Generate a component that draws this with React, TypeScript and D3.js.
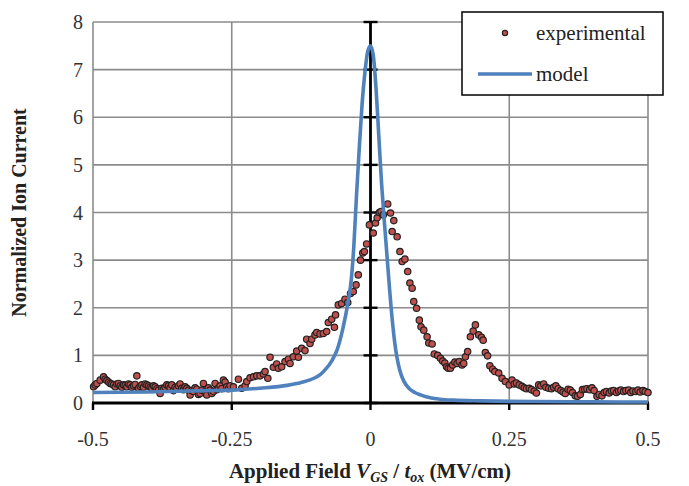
import React from "react";
import * as d3 from "d3";

const xTicks = [-0.5, -0.25, 0, 0.25, 0.5];
const xTickLabels = ["-0.5", "-0.25", "0", "0.25", "0.5"];
const yTicks = [0, 1, 2, 3, 4, 5, 6, 7, 8];

// experimental: [applied field, normalized current]
const experimental: [number, number][] = [
  [-0.499, 0.34], [-0.496, 0.38], [-0.493, 0.41], [-0.487, 0.48], [-0.481, 0.55], [-0.478, 0.5], [-0.475, 0.47],
  [-0.472, 0.44], [-0.469, 0.41], [-0.466, 0.4], [-0.463, 0.38], [-0.46, 0.34], [-0.457, 0.4], [-0.454, 0.41],
  [-0.451, 0.36], [-0.448, 0.33], [-0.445, 0.38], [-0.442, 0.37], [-0.439, 0.34], [-0.436, 0.4], [-0.433, 0.38],
  [-0.43, 0.33], [-0.427, 0.36], [-0.424, 0.39], [-0.421, 0.57], [-0.418, 0.31], [-0.415, 0.35], [-0.412, 0.38],
  [-0.409, 0.33], [-0.406, 0.4], [-0.403, 0.38], [-0.4, 0.36], [-0.397, 0.33], [-0.394, 0.31], [-0.391, 0.36],
  [-0.388, 0.34], [-0.385, 0.3], [-0.382, 0.27], [-0.379, 0.2], [-0.376, 0.31], [-0.373, 0.29], [-0.37, 0.33],
  [-0.367, 0.38], [-0.364, 0.36], [-0.361, 0.32], [-0.358, 0.38], [-0.355, 0.26], [-0.352, 0.33], [-0.349, 0.3],
  [-0.346, 0.36], [-0.343, 0.4], [-0.34, 0.31], [-0.337, 0.28], [-0.334, 0.34], [-0.331, 0.31], [-0.328, 0.27],
  [-0.325, 0.17], [-0.322, 0.26], [-0.319, 0.24], [-0.316, 0.32], [-0.313, 0.29], [-0.31, 0.18], [-0.307, 0.2],
  [-0.304, 0.27], [-0.301, 0.41], [-0.298, 0.24], [-0.295, 0.17], [-0.292, 0.32], [-0.289, 0.27], [-0.286, 0.2],
  [-0.283, 0.24], [-0.28, 0.41], [-0.277, 0.28], [-0.274, 0.31], [-0.271, 0.36], [-0.268, 0.3], [-0.265, 0.48],
  [-0.262, 0.44], [-0.259, 0.34], [-0.256, 0.3], [-0.253, 0.36], [-0.247, 0.34], [-0.238, 0.5], [-0.232, 0.31],
  [-0.226, 0.36], [-0.223, 0.45], [-0.217, 0.53], [-0.211, 0.55], [-0.205, 0.57], [-0.199, 0.57], [-0.193, 0.61],
  [-0.19, 0.66], [-0.185, 0.52], [-0.181, 0.96], [-0.175, 0.75], [-0.169, 0.82], [-0.166, 0.73], [-0.16, 0.76],
  [-0.154, 0.87], [-0.148, 0.92], [-0.145, 0.83], [-0.139, 0.97], [-0.133, 1.09], [-0.13, 0.96], [-0.124, 1.15],
  [-0.118, 1.1], [-0.115, 1.34], [-0.109, 1.25], [-0.106, 1.34], [-0.1, 1.43], [-0.097, 1.48], [-0.091, 1.45],
  [-0.085, 1.46], [-0.079, 1.5], [-0.076, 1.69], [-0.07, 1.76], [-0.065, 1.59], [-0.063, 1.85], [-0.058, 2.06],
  [-0.052, 2.09], [-0.046, 2.18], [-0.041, 2.11], [-0.036, 2.3], [-0.031, 2.34], [-0.026, 2.48], [-0.022, 2.69],
  [-0.018, 3.0], [-0.014, 3.15], [-0.011, 3.18], [-0.007, 3.34], [-0.002, 3.74], [0.005, 3.57], [0.009, 3.78],
  [0.012, 3.89], [0.016, 4.0], [0.019, 4.02], [0.023, 3.95], [0.031, 4.18], [0.036, 3.99], [0.039, 3.6],
  [0.042, 3.83], [0.048, 3.49], [0.053, 3.18], [0.057, 2.97], [0.062, 3.02], [0.067, 2.76], [0.071, 2.52],
  [0.075, 2.41], [0.078, 2.13], [0.083, 1.99], [0.088, 1.74], [0.091, 1.6], [0.096, 1.53], [0.102, 1.39],
  [0.105, 1.26], [0.111, 1.24], [0.115, 1.03], [0.121, 1.0], [0.126, 0.94], [0.13, 0.88], [0.134, 0.84],
  [0.137, 0.76], [0.14, 0.73], [0.144, 0.73], [0.148, 0.8], [0.152, 0.86], [0.156, 0.83], [0.16, 0.87],
  [0.165, 0.8], [0.168, 0.83], [0.171, 0.97], [0.175, 1.08], [0.18, 1.39], [0.185, 1.51], [0.189, 1.64],
  [0.195, 1.43], [0.2, 1.38], [0.203, 1.32], [0.207, 1.06], [0.211, 0.99], [0.215, 0.78], [0.22, 0.71],
  [0.224, 0.66], [0.231, 0.63], [0.237, 0.52], [0.243, 0.45], [0.25, 0.38], [0.255, 0.48], [0.259, 0.4],
  [0.263, 0.42], [0.268, 0.38], [0.273, 0.35], [0.277, 0.32], [0.281, 0.3], [0.286, 0.31], [0.29, 0.28],
  [0.295, 0.25], [0.299, 0.21], [0.303, 0.38], [0.307, 0.36], [0.312, 0.4], [0.316, 0.33], [0.321, 0.31],
  [0.326, 0.3], [0.33, 0.33], [0.334, 0.36], [0.338, 0.3], [0.343, 0.26], [0.347, 0.23], [0.351, 0.2],
  [0.356, 0.29], [0.36, 0.27], [0.364, 0.22], [0.369, 0.15], [0.373, 0.14], [0.378, 0.18], [0.382, 0.28],
  [0.386, 0.29], [0.39, 0.3], [0.395, 0.28], [0.399, 0.32], [0.403, 0.26], [0.408, 0.14], [0.412, 0.18],
  [0.417, 0.15], [0.421, 0.22], [0.425, 0.24], [0.43, 0.21], [0.434, 0.25], [0.438, 0.26], [0.443, 0.22],
  [0.447, 0.25], [0.451, 0.27], [0.456, 0.24], [0.46, 0.26], [0.465, 0.27], [0.469, 0.22], [0.473, 0.25],
  [0.478, 0.24], [0.482, 0.27], [0.486, 0.23], [0.491, 0.26], [0.495, 0.24], [0.5, 0.22],
];

// model curve
const modelX = [
  -0.5, -0.4, -0.3, -0.25, -0.2, -0.15, -0.125, -0.1, -0.09, -0.08, -0.07, -0.06, -0.05, -0.04, -0.035, -0.03,
  -0.025, -0.02, -0.015, -0.01, -0.005, 0, 0.005, 0.01, 0.015, 0.02, 0.025, 0.03, 0.035, 0.04, 0.045, 0.05, 0.055,
  0.06, 0.07, 0.08, 0.09, 0.1, 0.125, 0.15, 0.2, 0.25, 0.3, 0.4, 0.5,
];
const modelY = [
  0.22, 0.23, 0.26, 0.27, 0.31, 0.37, 0.43, 0.53, 0.6, 0.72, 0.88, 1.12, 1.55, 2.15, 2.55, 3.3,
  4.4, 5.4, 6.3, 6.95, 7.38, 7.5, 7.3, 6.6, 5.6, 4.6, 3.8, 3.05, 2.3, 1.65, 1.15, 0.82, 0.6,
  0.46, 0.3, 0.22, 0.17, 0.13, 0.08, 0.06, 0.045, 0.035, 0.03, 0.025, 0.02,
];

const W = 689;
const H = 486;
const x = d3.scaleLinear().domain([-0.5, 0.5]).range([93, 648]);
const y = d3.scaleLinear().domain([0, 8]).range([403, 22]);

const serif = "Liberation Serif, DejaVu Serif, serif";
const grid = "#8c8c8c";

export default function App() {
  const line = d3
    .line<number>()
    .x((_, i) => x(modelX[i]))
    .y((d) => y(d))
    .curve(d3.curveMonotoneX);
  const path = line(modelY) || "";

  return (
    <svg
      width={W}
      height={H}
      style={{ position: "absolute", left: 0, top: 0, background: "#fff", fontFamily: serif }}
    >
      {/* gridlines */}
      {yTicks.slice(1).map((t) => (
        <line key={"gy" + t} x1={x(-0.5)} x2={x(0.5)} y1={y(t)} y2={y(t)} stroke={grid} strokeWidth={1.6} />
      ))}
      {xTicks.filter((t) => t !== 0).map((t) => (
        <line key={"gx" + t} x1={x(t)} x2={x(t)} y1={y(0)} y2={y(8)} stroke={grid} strokeWidth={1.6} />
      ))}
      {/* y axis at 0 */}
      <line x1={x(0)} x2={x(0)} y1={y(0)} y2={y(8)} stroke="#000" strokeWidth={2.8} />
      {yTicks.map((t) => (
        <line key={"ty" + t} x1={x(0) - 7} x2={x(0) + 7} y1={y(t)} y2={y(t)} stroke="#000" strokeWidth={2.4} />
      ))}
      {/* x axis */}
      <line x1={x(-0.5) - 1} x2={x(0.5) + 1} y1={y(0)} y2={y(0)} stroke="#000" strokeWidth={2.8} />
      {xTicks.map((t) => (
        <line key={"tx" + t} x1={x(t)} x2={x(t)} y1={y(0)} y2={y(0) + 7} stroke="#000" strokeWidth={2.4} />
      ))}
      {/* tick labels */}
      {yTicks.map((t) => (
        <text key={"ly" + t} x={83} y={y(t)} dy="0.35em" textAnchor="end" fontSize={20} fill="#333">
          {t}
        </text>
      ))}
      {xTicks.map((t, i) => (
        <text key={"lx" + t} x={x(t)} y={446} textAnchor="middle" fontSize={20} fill="#333">
          {xTickLabels[i]}
        </text>
      ))}
      {/* experimental points */}
      {experimental.map(([vx, vy], i) => (
        <circle key={"p" + i} cx={x(vx)} cy={y(vy)} r={3.2} fill="#c0504d" stroke="#222" strokeWidth={1.2} />
      ))}
      {/* model */}
      <path d={path} fill="none" stroke="#4f81bd" strokeWidth={3.6} />
      {/* axis titles */}
      <text x={370} y={478} textAnchor="middle" fontSize={21} fontWeight="bold" fill="#222">
        Applied Field{" "}
        <tspan fontStyle="italic">V</tspan>
        <tspan fontStyle="italic" fontSize={14} dy={4}>GS</tspan>
        <tspan dy={-4}> / </tspan>
        <tspan fontStyle="italic">t</tspan>
        <tspan fontStyle="italic" fontSize={14} dy={4}>ox</tspan>
        <tspan dy={-4}> (MV/cm)</tspan>
      </text>
      <text
        transform={`translate(26, ${y(4)}) rotate(-90)`}
        textAnchor="middle"
        fontSize={20}
        fontWeight="bold"
        fill="#222"
      >
        Normalized Ion Current
      </text>
      {/* legend */}
      <rect x={462} y={12} width={201} height={83} fill="#fff" stroke="#000" strokeWidth={1.5} />
      <circle cx={505} cy={33} r={2.6} fill="#c0504d" stroke="#222" strokeWidth={1.2} />
      <text x={536} y={40} fontSize={21} fill="#222">experimental</text>
      <line x1={478} x2={532} y1={74} y2={74} stroke="#4f81bd" strokeWidth={3.6} />
      <text x={536} y={81} fontSize={21} fill="#222">model</text>
    </svg>
  );
}
